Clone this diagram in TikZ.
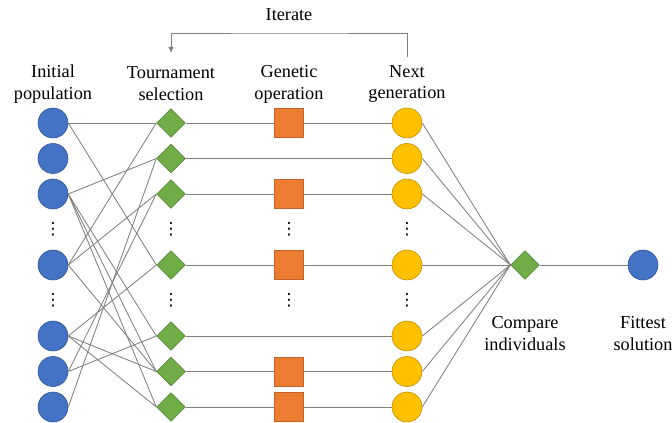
\documentclass[tikz,border=0pt]{standalone}
\usepackage{fontspec}
\setmainfont{Liberation Serif}
\newfontfamily\dotsfont{DejaVu Sans}
\usetikzlibrary{shapes.geometric, arrows.meta, positioning, calc}

\definecolor{popblue}{HTML}{4472C4}
\definecolor{popedge}{HTML}{2F528F}
\definecolor{selgreen}{HTML}{70AD47}
\definecolor{seledge}{HTML}{507E32}
\definecolor{genorange}{HTML}{ED7D31}
\definecolor{genedge}{HTML}{C0622A}
\definecolor{nextyellow}{HTML}{FFC000}
\definecolor{nextedge}{HTML}{BC8C00}
\definecolor{linkgray}{HTML}{7F7F7F}

\begin{document}
\begin{tikzpicture}[
                node distance=0.8875cm and 2.95cm, on grid,
                every node/.style={font=\fontsize{13}{15.6}\selectfont},
                pop/.style={circle, draw=popedge, fill=popblue, minimum size=0.75cm, inner sep=0pt},
                sel/.style={diamond, draw=seledge, fill=selgreen, minimum width=0.72cm, minimum height=0.72cm, inner sep=0pt},
                gen/.style={rectangle, draw=genedge, fill=genorange, minimum size=0.72cm, inner sep=0pt},
                nxt/.style={circle, draw=nextedge, fill=nextyellow, minimum size=0.75cm, inner sep=0pt},
                dots/.style={inner sep=0pt, font=\dotsfont\fontsize{12}{12}\selectfont},
                lbl/.style={align=center},
                link/.style={draw=linkgray, line width=0.6pt},
                feedback/.style={draw=linkgray, line width=0.6pt, -{Latex[length=1.6mm, width=1.4mm]}}
            ]
            \useasboundingbox (-1.325,3.075) rectangle (15.475,-7.5);

            % initial population
            \node[pop] (p1) {};
            \node[pop, below=of p1] (p2) {};
            \node[pop, below=of p2] (p3) {};
            \node[dots, below=of p3] (pd1) {⋮};
            \node[pop, below=of pd1] (p4) {};
            \node[dots, below=of p4] (pd2) {⋮};
            \node[pop, below=of pd2] (p5) {};
            \node[pop, below=of p5] (p6) {};
            \node[pop, below=of p6] (p7) {};

            % tournament selection
            \node[sel, right=of p1] (s1) {};
            \node[sel, right=of p2] (s2) {};
            \node[sel, right=of p3] (s3) {};
            \node[dots, right=of pd1] (sd1) {⋮};
            \node[sel, right=of p4] (s4) {};
            \node[dots, right=of pd2] (sd2) {⋮};
            \node[sel, right=of p5] (s5) {};
            \node[sel, right=of p6] (s6) {};
            \node[sel, right=of p7] (s7) {};

            % genetic operation
            \node[gen, right=of s1] (g1) {};
            \node[gen, right=of s3] (g3) {};
            \node[dots, right=of sd1] (gd1) {⋮};
            \node[gen, right=of s4] (g4) {};
            \node[dots, right=of sd2] (gd2) {⋮};
            \node[gen, right=of s6] (g6) {};
            \node[gen, right=of s7] (g7) {};

            % next generation
            \node[nxt, right=5.9cm of s1] (n1) {};
            \node[nxt, right=5.9cm of s2] (n2) {};
            \node[nxt, right=5.9cm of s3] (n3) {};
            \node[dots, right=of gd1] (nd1) {⋮};
            \node[nxt, right=5.9cm of s4] (n4) {};
            \node[dots, right=of gd2] (nd2) {⋮};
            \node[nxt, right=5.9cm of s5] (n5) {};
            \node[nxt, right=5.9cm of s6] (n6) {};
            \node[nxt, right=5.9cm of s7] (n7) {};

            \node[sel, right=of n4] (cmp) {};
            \node[pop, right=of cmp] (fit) {};

            % labels
            \node[lbl, above=0.975cm of p1] (lpop) {Initial\\population};
            \node[lbl, above=0.975cm of s1] (lsel) {Tournament\\selection};
            \node[lbl, above=0.975cm of g1] (lgen) {Genetic\\operation};
            \node[lbl, above=0.975cm of n1] (lnxt) {Next\\generation};
            \node[lbl, below=1.725cm of cmp] (lcmp) {Compare\\individuals};
            \node[lbl, below=1.725cm of fit] (lfit) {Fittest\\solution};
            \node[lbl, above=1.725cm of lgen] (iter) {Iterate};

            \draw[feedback] ([yshift=0.08cm]lnxt.north) |- ($(iter.center)+(0,-0.45)$) -| ([yshift=0.22cm]lsel.north);

            % selection links
            \draw[link] (p1.east) -- (s1.west);
            \draw[link] (p1.east) -- (s4.west);
            \draw[link] (p3.east) -- (s2.west);
            \draw[link] (p3.east) -- (s5.west);
            \draw[link] (p3.east) -- (s6.west);
            \draw[link] (p3.east) -- (s7.west);
            \draw[link] (p4.east) -- (s1.west);
            \draw[link] (p4.east) -- (s3.west);
            \draw[link] (p4.east) -- (s6.west);
            \draw[link] (p5.east) -- (s4.west);
            \draw[link] (p5.east) -- (s6.west);
            \draw[link] (p5.east) -- (s7.west);
            \draw[link] (p6.east) -- (s3.west);
            \draw[link] (p6.east) -- (s5.west);
            \draw[link] (p7.east) -- (s2.west);

            % operation links
            \draw[link] (s1) -- (g1) -- (n1);
            \draw[link] (s2) -- (n2);
            \draw[link] (s3) -- (g3) -- (n3);
            \draw[link] (s4) -- (g4) -- (n4);
            \draw[link] (s5) -- (n5);
            \draw[link] (s6) -- (g6) -- (n6);
            \draw[link] (s7) -- (g7) -- (n7);

            % comparison
            \draw[link] (n1.east) -- (cmp.west);
            \draw[link] (n2.east) -- (cmp.west);
            \draw[link] (n3.east) -- (cmp.west);
            \draw[link] (n4.east) -- (cmp.west);
            \draw[link] (n5.east) -- (cmp.west);
            \draw[link] (n6.east) -- (cmp.west);
            \draw[link] (n7.east) -- (cmp.west);
            \draw[link] (cmp) -- (fit);
        \end{tikzpicture}
\end{document}
